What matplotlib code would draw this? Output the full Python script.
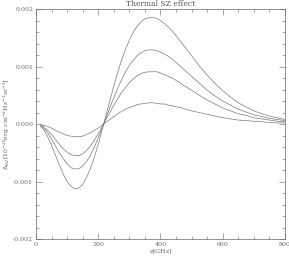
import matplotlib
matplotlib.use("Agg")
import matplotlib.pyplot as plt
from matplotlib.ticker import MultipleLocator, FormatStrFormatter

# frequency grid [GHz] and the four curves (units of 1e-3)
nu = [15, 25, 37.5, 50, 62.5, 75, 87.5, 100, 112.5, 125, 137.5, 150, 162.5,
      175, 187.5, 200, 212.5, 225, 237.5, 250, 262.5, 275, 287.5, 300, 312.5,
      325, 337.5, 350, 362.5, 375, 387.5, 400, 412.5, 425, 437.5, 450, 462.5,
      475, 487.5, 500, 525, 550, 575, 600, 625, 650, 675, 700, 725, 750, 775,
      800]
curve_a = [-0.04, -0.10, -0.22, -0.37, -0.54, -0.71, -0.87, -1.00, -1.08,
           -1.13, -1.11, -1.05, -0.93, -0.77, -0.58, -0.35, -0.10, 0.16, 0.41,
           0.66, 0.90, 1.11, 1.30, 1.46, 1.60, 1.70, 1.78, 1.83, 1.85, 1.86,
           1.84, 1.80, 1.75, 1.69, 1.62, 1.54, 1.45, 1.36, 1.28, 1.19, 1.01,
           0.85, 0.71, 0.58, 0.47, 0.37, 0.30, 0.23, 0.18, 0.14, 0.11, 0.08]
curve_b = [-0.03, -0.07, -0.15, -0.26, -0.38, -0.50, -0.60, -0.69, -0.76,
           -0.78, -0.78, -0.73, -0.65, -0.54, -0.40, -0.24, -0.07, 0.11, 0.29,
           0.46, 0.62, 0.77, 0.91, 1.02, 1.11, 1.19, 1.24, 1.28, 1.29, 1.29,
           1.28, 1.25, 1.22, 1.18, 1.13, 1.07, 1.01, 0.95, 0.89, 0.83, 0.71,
           0.59, 0.49, 0.40, 0.33, 0.26, 0.21, 0.16, 0.13, 0.10, 0.08, 0.06]
curve_c = [-0.02, -0.05, -0.11, -0.18, -0.27, -0.35, -0.43, -0.49, -0.53,
           -0.55, -0.55, -0.52, -0.46, -0.38, -0.28, -0.17, -0.05, 0.08, 0.20,
           0.33, 0.44, 0.55, 0.64, 0.72, 0.79, 0.84, 0.88, 0.90, 0.91, 0.91,
           0.91, 0.89, 0.86, 0.83, 0.80, 0.76, 0.72, 0.67, 0.63, 0.59, 0.50,
           0.42, 0.35, 0.28, 0.23, 0.18, 0.15, 0.11, 0.09, 0.07, 0.05, 0.04]
curve_d = [-0.01, -0.02, -0.04, -0.07, -0.11, -0.14, -0.17, -0.20, -0.21,
           -0.22, -0.22, -0.21, -0.18, -0.15, -0.11, -0.07, -0.02, 0.03, 0.08,
           0.13, 0.18, 0.22, 0.26, 0.29, 0.31, 0.34, 0.35, 0.36, 0.37, 0.37,
           0.36, 0.35, 0.35, 0.33, 0.32, 0.30, 0.29, 0.27, 0.25, 0.23, 0.20,
           0.17, 0.14, 0.11, 0.09, 0.07, 0.06, 0.05, 0.04, 0.03, 0.02, 0.02]

plt.rcParams["font.family"] = ["DejaVu Serif"]

fig = plt.figure(figsize=(2.89, 2.58), dpi=100)
ax = fig.add_axes([0.1246, 0.0736, 0.8614, 0.891])

for ys in (curve_a, curve_b, curve_c, curve_d):
    ax.plot(nu, [v * 1e-3 for v in ys], color="#7a7a7a", linewidth=0.5)

ax.set_xlim(0, 800)
ax.set_ylim(-0.002, 0.002)
ax.xaxis.set_major_locator(MultipleLocator(200))
ax.xaxis.set_minor_locator(MultipleLocator(50))
ax.yaxis.set_major_locator(MultipleLocator(0.001))
ax.yaxis.set_minor_locator(MultipleLocator(0.0002))
ax.yaxis.set_major_formatter(FormatStrFormatter("%.3f"))
ax.tick_params(which="both", direction="in", top=True, right=True,
               labelsize=4.5, colors="#666666", width=0.4, pad=2)
ax.tick_params(which="major", length=4)
ax.tick_params(which="minor", length=2)
for s in ax.spines.values():
    s.set_linewidth(0.5)
    s.set_color("#666666")

ax.set_title("Thermal SZ effect", fontsize=5.5, color="#555555", pad=2)
ax.set_xlabel(r"$\nu$[GHz]", fontsize=4.5, color="#666666", labelpad=1)
ax.set_ylabel(r"$\Delta_{I_{tSZ}}$[10$^{-26}$erg cm$^{-2}$Hz$^{-1}$sr$^{-1}$]",
              fontsize=4.5, color="#666666", labelpad=1)

fig.savefig("out.png", dpi=100)
